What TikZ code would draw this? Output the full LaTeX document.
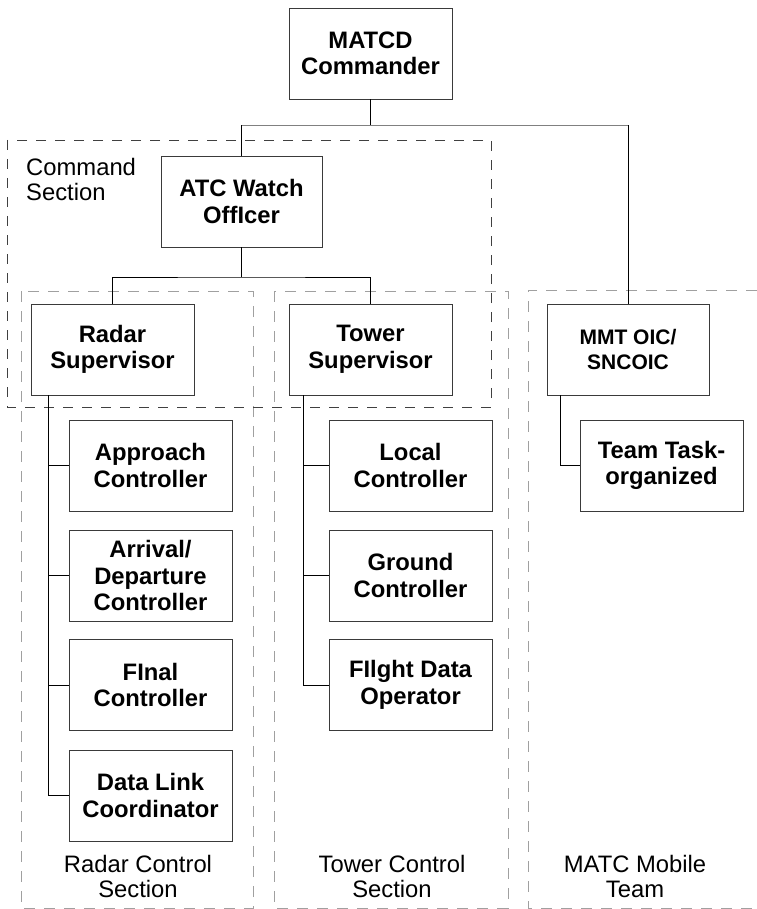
\documentclass[tikz,border=0pt]{standalone}
\usepackage{fontspec}
\setmainfont{Liberation Sans}
\definecolor{boxc}{HTML}{3A3A3A}
\definecolor{cmdc}{HTML}{404040}
\definecolor{secc}{HTML}{A0A0A0}
\definecolor{topc}{HTML}{808080}
\begin{document}
\begin{tikzpicture}[x=1pt,y=-1pt,
  box/.style={draw=boxc, line width=0.9pt, minimum width=163pt, minimum height=91pt,
    inner sep=0pt, align=center, font=\fontsize{23.8}{26.5}\selectfont\bfseries},
  lab/.style={inner sep=0pt, font=\fontsize{23.8}{25}\selectfont},
  con/.style={draw=black, line width=0.9pt},
  cmdsec/.style={draw=cmdc, line width=0.9pt, dash pattern=on 10pt off 9pt},
  sec/.style={draw=secc, line width=0.9pt, dash pattern=on 11pt off 9pt}]
\useasboundingbox (0,0) rectangle (756,909);

% section frames
\draw[sec] (21,291) rectangle (253,908);
\draw[sec] (274,291) rectangle (508,908);
\draw[sec] (757,290) -| (528,908) -- (757,908);
\draw[cmdsec] (7,140) rectangle (491,407);

% boxes
\node[box] (matcd) at (370.5,53.5) {MATCD\\Commander};
\node[box, minimum width=161pt] (atc) at (241.5,201.5) {ATC Watch\\OffIcer};
\node[box] (radar) at (112.5,349.5) {Radar\\Supervisor};
\node[box] (tower) at (370.5,349.5) {Tower\\Supervisor};
\node[box, minimum width=162pt, font=\fontsize{21}{25}\selectfont\bfseries] (mmt) at (628,349.5) {MMT OIC/\\SNCOIC};
\node[box] (approach) at (150.5,465.5) {Approach\\Controller};
\node[box] (arrival) at (150.5,575.5) {Arrival/\\Departure\\Controller};
\node[box] (final) at (150.5,685) {FInal\\Controller};
\node[box] (datalink) at (150.5,795.5) {Data Link\\Coordinator};
\node[box] (local) at (410.5,465.5) {Local\\Controller};
\node[box] (ground) at (410.5,575.5) {Ground\\Controller};
\node[box] (flight) at (410.5,685) {FIlght Data\\Operator};
\node[box] (team) at (661.5,465.5) {Team Task-\\organized};

% connectors
\coordinate (j1) at (370.5,125);
\coordinate (j2) at (241.5,277);
\draw[con] (matcd.south) -- (j1);
\draw[con, draw=topc] (atc.north |- j1) -- (mmt.north |- j1);
\draw[con] (atc.north) -- (atc.north |- j1);
\draw[con] (mmt.north) -- (mmt.north |- j1);
\draw[con] (atc.south) -- (j2);
\draw[con] (radar.north) |- (j2) -| (tower.north);

\draw[con] ([xshift=18pt]radar.south west) |- (approach.west);
\draw[con] ([xshift=18pt]radar.south west) |- (arrival.west);
\draw[con] ([xshift=18pt]radar.south west) |- (final.west);
\draw[con] ([xshift=18pt]radar.south west) |- (datalink.west);

\draw[con] ([xshift=15pt]tower.south west) |- (local.west);
\draw[con] ([xshift=15pt]tower.south west) |- (ground.west);
\draw[con] ([xshift=15pt]tower.south west) |- (flight.west);

\draw[con] ([xshift=14pt]mmt.south west) |- (team.west);

% section labels
\node[lab, anchor=north west, align=left] (cmdlab) at (26,158) {Command\\Section};
\node[lab, anchor=north, align=center] (radlab) at (138,855) {Radar Control\\Section};
\node[lab, anchor=north, align=center] (towlab) at (392,855) {Tower Control\\Section};
\node[lab, anchor=north, align=center] (mmtlab) at (635,855) {MATC Mobile\\Team};
\end{tikzpicture}
\end{document}
